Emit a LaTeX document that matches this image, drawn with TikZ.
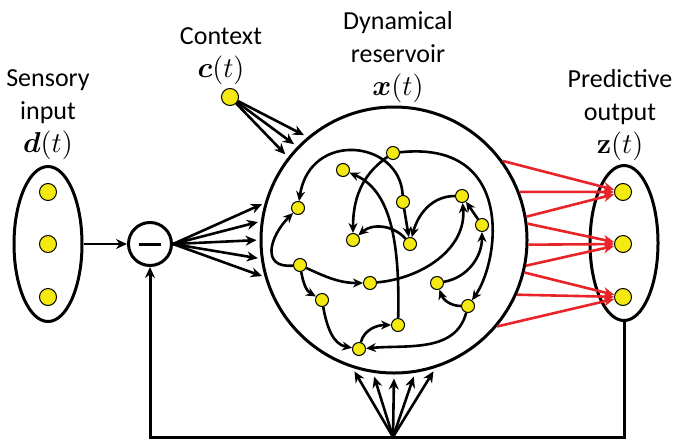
\documentclass[tikz,border=0pt]{standalone}
\usepackage[no-math]{fontspec}
\setmainfont{Carlito}
\usepackage{amsmath,bm}
\usepackage{xcolor}
\usetikzlibrary{arrows.meta,shapes.geometric}

\definecolor{unityellow}{RGB}{245,233,18}
\definecolor{readred}{RGB}{232,36,40}

\newcommand{\sig}[1]{{\fontsize{15.5}{16}\selectfont$#1(t)$}}

\begin{document}
\begin{tikzpicture}[
  x=0.5pt, y=0.5pt,
  unit/.style={circle, draw, line width=0.5pt, fill=unityellow, inner sep=0pt,
               minimum size=6.5pt},
  io/.style={unit, minimum size=8.5pt},
  pool/.style={ellipse, draw, line width=1.5pt, inner sep=0pt,
               minimum width=34pt, minimum height=77.5pt},
  res/.style={circle, draw, line width=1.5pt, inner sep=0pt, minimum size=133pt},
  sub/.style={circle, draw, line width=1.5pt, inner sep=0pt, minimum size=21.5pt},
  lbl/.style={font=\fontsize{13}{16.5}\selectfont, align=center, anchor=north,
              inner sep=0pt},
  ar/.style={-{Stealth[length=5.5pt,width=5pt]}, line width=1.3pt},
  arin/.style={-{Stealth[length=5pt,width=4.5pt]}, line width=1.3pt},
  arred/.style={-{Stealth[length=5.5pt,width=5pt]}, line width=1.3pt, draw=readred}
]
  \useasboundingbox (0,0) rectangle (678,-439);

  % labels
  \node[lbl] (lsens) at (48,-69) {Sensory\\input\\\sig{\bm{d}}};
  \node[lbl] (lctx) at (221,-27) {Context\\\sig{\bm{c}}};
  \node[lbl] (lres) at (398,-11) {Dynamical\\reservoir\\\sig{\bm{x}}};
  \node[lbl] (lout) at (620,-69) {Predictive\\output\\\sig{\mathbf{z}}};

  % input, comparator, context
  \node[pool] (inp) at (48,-244) {};
  \node[io] (i1) at (48,-192) {};
  \node[io] (i2) at (48,-244) {};
  \node[io] (i3) at (48,-297) {};
  \node[sub] (cmp) at (150,-244) {\rule[-0.75pt]{11pt}{1.5pt}};
  \node[io] (ctx) at (230,-97) {};

  % reservoir
  \node[res] (rsv) at (394,-240) {};
  \node[unit] (r1) at (393,-153) {};
  \node[unit] (r2) at (343,-170) {};
  \node[unit] (r3) at (403,-202) {};
  \node[unit] (r4) at (462,-196) {};
  \node[unit] (r5) at (482,-225) {};
  \node[unit] (r6) at (298,-208) {};
  \node[unit] (r7) at (353,-240) {};
  \node[unit] (r8) at (410,-244) {};
  \node[unit] (r9) at (300,-265) {};
  \node[unit] (r10) at (370,-283) {};
  \node[unit] (r11) at (437,-283) {};
  \node[unit] (r12) at (322,-300) {};
  \node[unit] (r13) at (468,-306) {};
  \node[unit] (r14) at (398,-325) {};
  \node[unit] (r15) at (359,-349) {};

  % output
  \node[pool] (outp) at (624,-243) {};
  \node[io] (o1) at (623,-192) {};
  \node[io] (o2) at (623,-244) {};
  \node[io] (o3) at (623,-297) {};

  \coordinate (fb) at (393,-437);

  % recurrent links
  \draw[arin] (r3) .. controls (400,-140) and (310,-130) .. (r6);
  \draw[arin] (r1) to[out=215,in=90] (r7);
  \draw[arin] (r1) .. controls (515,-140) and (500,-260) .. (r13);
  \draw[arin] (r14) .. controls (400,-240) and (390,-190) .. (r2);
  \draw[arin] (r8) to[bend right=45] (r7);
  \draw[arin] (r3) -- (r8);
  \draw[arin] (r4) to[out=180,in=75] (r8);
  \draw[arin] (r5) -- (r4);
  \draw[arin] (r11) to[out=10,in=-90] (r5);
  \draw[arin] (r13) to[out=180,in=-70] (r11);
  \draw[arin] (r13) to[out=-105,in=5] (r15);
  \draw[arin] (r15) to[out=75,in=180] (r14);
  \draw[arin] (r12) to[out=-80,in=170] (r15);
  \draw[arin] (r9) to[out=-80,in=150] (r12);
  \draw[arin] (r9) to[out=-25,in=180] (r10);
  \draw[arin] (r10) to[out=5,in=-85] (r4);
  \draw[arin] (r9) to[out=185,in=225,looseness=1.6] (r6);

  % inputs to reservoir
  \draw[ar] (inp) -- (cmp);
  \foreach \a in {164,172,180,188,196}
    \draw[ar, shorten >=1.5pt] (cmp.east) -- (rsv.\a);
  \foreach \a in {130,136,142}
    \draw[ar, shorten >=2pt] (ctx) -- (rsv.\a);
  \foreach \a in {252,261,270,279,288}
    \draw[ar, shorten >=2pt] (fb) -- (rsv.\a);

  % readout
  \foreach \a in {36,21,10}
    \draw[arred] (rsv.\a) -- (o1);
  \foreach \a in {7,-2,-11}
    \draw[arred] (rsv.\a) -- (o2);
  \foreach \a in {-14,-24,-40}
    \draw[arred] (rsv.\a) -- (o3);

  % feedback loop
  \draw[ar, line width=1.5pt] (outp.south) -- (outp.south |- fb)
    -- (cmp.south |- fb) -- (cmp.south);
\end{tikzpicture}
\end{document}
